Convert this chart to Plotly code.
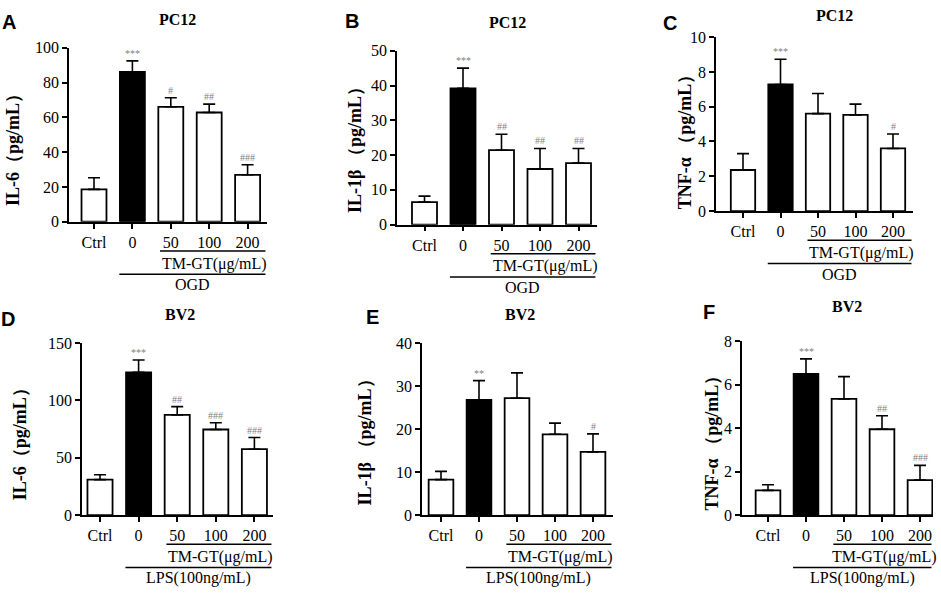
import plotly.graph_objects as go

W, H = 941, 597

categories = ["Ctrl", "0", "50", "100", "200"]

a_mean = [18.6, 86.2, 66.1, 62.8, 27.0]
a_err = [6.7, 6.3, 5.2, 4.8, 5.8]
a_sig = ["", "***", "#", "##", "###"]

b_mean = [6.5, 39.2, 21.4, 16.0, 17.7]
b_err = [1.7, 5.8, 4.6, 5.9, 4.2]
b_sig = ["", "***", "##", "##", "##"]

c_mean = [2.36, 7.28, 5.6, 5.53, 3.6]
c_err = [0.94, 1.45, 1.16, 0.62, 0.83]
c_sig = ["", "***", "", "", "#"]

d_mean = [31.0, 124.6, 87.4, 74.7, 57.5]
d_err = [4.2, 10.7, 7.3, 5.9, 10.2]
d_sig = ["", "***", "##", "###", "###"]

e_mean = [8.27, 26.8, 27.2, 18.8, 14.7]
e_err = [1.9, 4.5, 5.9, 2.6, 4.2]
e_sig = ["", "**", "", "", "#"]

f_mean = [1.14, 6.5, 5.35, 3.95, 1.61]
f_err = [0.26, 0.69, 1.02, 0.62, 0.68]
f_sig = ["", "***", "", "##", "###"]

bar_colors = ["white", "black", "white", "white", "white"]

SERIF = "Liberation Serif, Times New Roman, serif"
SANS = "Liberation Sans, Arial, sans-serif"


def px(x):
    return x / W


def py(y):
    return 1 - y / H


panels = [
    dict(letter="A", title="PC12", ytitle="IL-6（pg/mL）", mean=a_mean, err=a_err, sig=a_sig,
         ymax=100, dtick=20, box=(69, 267, 41, 220), c0=94, s=38.4, title_xy=(177, 12),
         letter_xy=(9, 14), ytitle_xy=(13, 142), bottom="OGD"),
    dict(letter="B", title="PC12", ytitle="IL-1β （pg/mL）", mean=b_mean, err=b_err, sig=b_sig,
         ymax=50, dtick=10, box=(397, 597, 44, 223), c0=424.5, s=38.5, title_xy=(508, 15),
         letter_xy=(352, 13), ytitle_xy=(355, 142), bottom="OGD"),
    dict(letter="C", title="PC12", ytitle="TNF-α （pg/mL）", mean=c_mean, err=c_err, sig=c_sig,
         ymax=10, dtick=2, box=(716, 913, 30, 209), c0=743, s=37.5, title_xy=(834, 8),
         letter_xy=(670, 15), ytitle_xy=(685, 133), bottom="OGD"),
    dict(letter="D", title="BV2", ytitle="IL-6（pg/mL）", mean=d_mean, err=d_err, sig=d_sig,
         ymax=150, dtick=50, box=(82, 273, 345, 522), c0=100, s=38.6, title_xy=(180, 315),
         letter_xy=(8, 320), ytitle_xy=(20, 445), bottom="LPS(100ng/mL)"),
    dict(letter="E", title="BV2", ytitle="IL-1β （pg/mL）", mean=e_mean, err=e_err, sig=e_sig,
         ymax=40, dtick=10, box=(422, 613, 345, 522), c0=441, s=38, title_xy=(520, 315),
         letter_xy=(372, 318), ytitle_xy=(365, 443), bottom="LPS(100ng/mL)"),
    dict(letter="F", title="BV2", ytitle="TNF-α （pg/mL）", mean=f_mean, err=f_err, sig=f_sig,
         ymax=8, dtick=2, box=(742, 933, 343, 522), c0=768, s=38, title_xy=(847, 307),
         letter_xy=(709, 313), ytitle_xy=(712, 443), bottom="LPS(100ng/mL)"),
]

fig = go.Figure()
annotations = []
shapes = []
layout = {}

for i, p in enumerate(panels):
    n = i + 1
    xa = "x" if n == 1 else f"x{n}"
    ya = "y" if n == 1 else f"y{n}"
    L, R, T, B = p["box"]
    lo = (L - p["c0"]) / p["s"]
    hi = (R - p["c0"]) / p["s"]
    xs = list(range(len(categories)))

    fig.add_trace(go.Bar(
        x=xs, y=p["mean"], xaxis=xa, yaxis=ya, width=0.65,
        marker=dict(color=bar_colors, line=dict(color="black", width=1.8)),
        error_y=dict(type="data", array=p["err"], arrayminus=[0] * len(p["err"]),
                     symmetric=False, color="black", thickness=1.6, width=6),
        showlegend=False, hoverinfo="y",
    ))

    layout["xaxis" if n == 1 else f"xaxis{n}"] = dict(
        domain=[px(L), px(R)], anchor=ya, range=[lo, hi],
        tickmode="array", tickvals=xs, ticktext=categories,
        ticks="outside", ticklen=5, tickwidth=1.6, tickcolor="black",
        showline=True, linecolor="black", linewidth=1.6, showgrid=False, zeroline=False,
        tickfont=dict(family=SERIF, size=16, color="black"), fixedrange=True,
    )
    layout["yaxis" if n == 1 else f"yaxis{n}"] = dict(
        domain=[py(B), py(T)], anchor=xa, range=[0, p["ymax"]], dtick=p["dtick"],
        ticks="outside", ticklen=5, tickwidth=1.6, tickcolor="black",
        showline=True, linecolor="black", linewidth=1.6, showgrid=False, zeroline=False,
        tickfont=dict(family=SERIF, size=16, color="black"), fixedrange=True,
    )

    # significance marks
    for k, (m, e, s) in enumerate(zip(p["mean"], p["err"], p["sig"])):
        if s:
            annotations.append(dict(
                x=k, y=m + e, xref=xa, yref=ya, text=s, showarrow=False,
                yanchor="bottom", yshift=0, font=dict(family=SERIF, size=10, color="#808080"),
            ))

    # title, panel letter, y title
    annotations.append(dict(x=px(p["title_xy"][0]), y=py(p["title_xy"][1]), xref="paper", yref="paper",
                            text=f"<b>{p['title']}</b>", showarrow=False, xanchor="center", yanchor="middle",
                            font=dict(family=SERIF, size=16, color="black")))
    annotations.append(dict(x=px(p["letter_xy"][0]), y=py(p["letter_xy"][1]), xref="paper", yref="paper",
                            text=f"<b>{p['letter']}</b>", showarrow=False, xanchor="center", yanchor="middle",
                            font=dict(family=SANS, size=20, color="black")))
    annotations.append(dict(x=px(p["ytitle_xy"][0]), y=py(p["ytitle_xy"][1]), xref="paper", yref="paper",
                            text=f"<b>{p['ytitle']}</b>", showarrow=False, xanchor="center", yanchor="middle",
                            textangle=-90, font=dict(family=SERIF, size=18, color="black")))

    # grouping lines under the x axis
    right = hi - 0.04
    l1_start, l2_start = 1.72, 0.66
    y1 = py(B + 30)
    y2 = py(B + 54)
    shapes.append(dict(type="line", xref=xa, yref="paper", x0=l1_start, x1=right, y0=y1, y1=y1,
                       line=dict(color="black", width=1.5)))
    shapes.append(dict(type="line", xref=xa, yref="paper", x0=l2_start, x1=right, y0=y2, y1=y2,
                       line=dict(color="black", width=1.5)))
    annotations.append(dict(x=(l1_start + right) / 2 + 0.05, y=py(B + 43), xref=xa, yref="paper",
                            text="TM-GT(μg/mL)", showarrow=False, xanchor="center", yanchor="middle",
                            font=dict(family=SERIF, size=16, color="black")))
    annotations.append(dict(x=(l2_start + right) / 2, y=py(B + 65), xref=xa, yref="paper",
                            text=p["bottom"], showarrow=False, xanchor="center", yanchor="middle",
                            font=dict(family=SERIF, size=16, color="black")))

fig.update_layout(
    width=W, height=H, margin=dict(l=0, r=0, t=0, b=0),
    paper_bgcolor="white", plot_bgcolor="white",
    annotations=annotations, shapes=shapes, bargap=0.3,
    **layout,
)

fig.write_html("out.html", config={"displayModeBar": False},
               post_script="document.body.style.margin='0';document.body.style.padding='0';")
